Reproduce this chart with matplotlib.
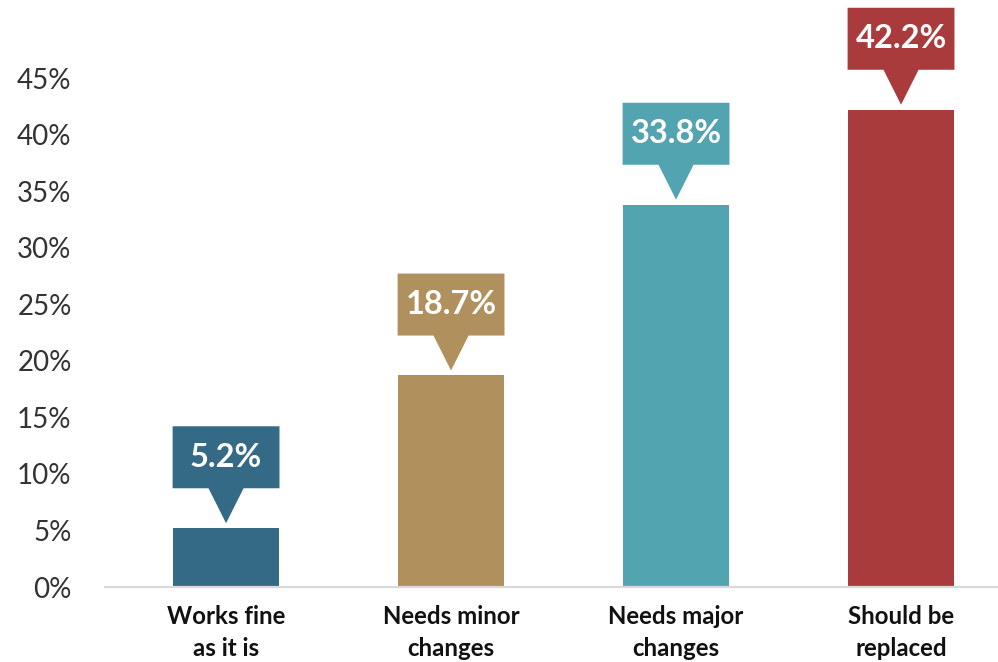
import matplotlib
matplotlib.use("Agg")
import matplotlib.pyplot as plt
from matplotlib.patches import Polygon

plt.rcParams["font.family"] = ["Lato", "DejaVu Sans"]

categories = ["Works fine\nas it is", "Needs minor\nchanges", "Needs major\nchanges", "Should be\nreplaced"]
values = [5.2, 18.7, 33.8, 42.2]
colors = ["#346A86", "#B0915E", "#52A5B0", "#AA3B3D"]
yticks = [0, 5, 10, 15, 20, 25, 30, 35, 40, 45]

fig = plt.figure(figsize=(9.98, 6.62), dpi=100)
ax = fig.add_axes([105 / 998, 75 / 662, 893 / 998, 579 / 662])

x = list(range(len(categories)))
bar_w = 0.475
ax.bar(x, values, width=bar_w, color=colors, zorder=2)

ax.set_xlim(-0.538, 3.431)
ax.set_ylim(0, 51.19)

# callout geometry (data units)
gap = 0.44
tip_h = 3.09
box_h = 5.48
tip_half = 0.078

for xi, v, c in zip(x, values, colors):
    tip = v + gap
    base = tip + tip_h
    top = base + box_h
    pts = [
        (xi - bar_w / 2, top), (xi + bar_w / 2, top),
        (xi + bar_w / 2, base), (xi + tip_half, base),
        (xi, tip), (xi - tip_half, base),
        (xi - bar_w / 2, base),
    ]
    ax.add_patch(Polygon(pts, closed=True, facecolor=c, edgecolor="none",
                         zorder=3, clip_on=False))
    ax.text(xi, (base + top) / 2, f"{v:.1f}%", color="white", fontsize=23.5,
            fontweight="bold", ha="center", va="center", zorder=4)

ax.set_xticks(x)
ax.set_xticklabels(categories, fontsize=17.3, fontweight="bold",
                   color="#111111", linespacing=1.48)
ax.set_yticks(yticks)
ax.set_yticklabels([f"{t}%" for t in yticks], fontsize=20, color="#333333")
ax.tick_params(axis="y", length=0, pad=24)
ax.tick_params(axis="x", length=0, pad=13)

for s in ["top", "right", "left"]:
    ax.spines[s].set_visible(False)
ax.spines["bottom"].set_color("#D9D9D9")
ax.spines["bottom"].set_linewidth(1.6)

fig.savefig("out.png", dpi=100)
